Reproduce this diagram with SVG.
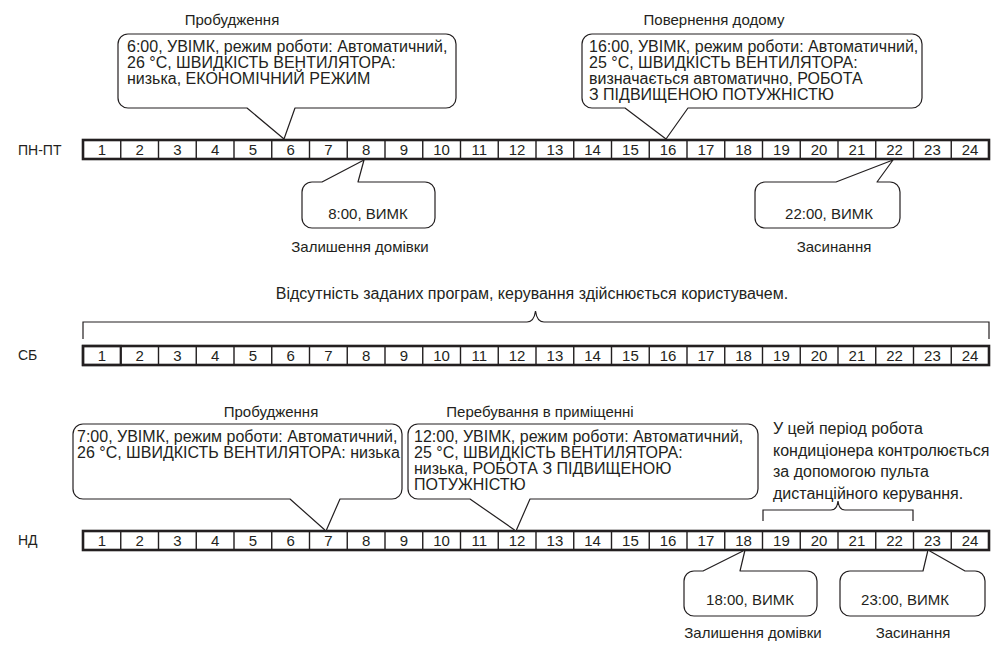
<svg xmlns="http://www.w3.org/2000/svg" width="991" height="645" viewBox="0 0 991 645">
<style>
text{font-family:"Liberation Sans",Arial,sans-serif;fill:#231f20}
.lbl{font-size:15px;text-anchor:middle}
.note{font-size:16px;text-anchor:middle}
.bt{font-size:16px}
.st{font-size:16px}
.num{font-size:15px;text-anchor:middle}
.row{font-size:14px}
.bar{fill:#fff;stroke:#231f20;stroke-width:2.6}
.div{stroke:#231f20;stroke-width:1.4}
.bub{fill:#fff;stroke:#231f20;stroke-width:1.2;stroke-linejoin:round}
.br{fill:none;stroke:#231f20;stroke-width:1.2}
</style>
<defs>
<g id="cells">
<rect class="bar" x="83" y="0" width="906" height="19"/>
<path class="div" d="M120.75 0v19M158.5 0v19M196.25 0v19M234 0v19M271.75 0v19M309.5 0v19M347.25 0v19M385 0v19M422.75 0v19M460.5 0v19M498.25 0v19M536 0v19M573.75 0v19M611.5 0v19M649.25 0v19M687 0v19M724.75 0v19M762.5 0v19M800.25 0v19M838 0v19M875.75 0v19M913.5 0v19M951.25 0v19"/>
<g class="num">
<text x="101.9" y="15">1</text><text x="139.6" y="15">2</text><text x="177.4" y="15">3</text><text x="215.1" y="15">4</text><text x="252.9" y="15">5</text><text x="290.6" y="15">6</text><text x="328.4" y="15">7</text><text x="366.1" y="15">8</text><text x="403.9" y="15">9</text><text x="441.6" y="15">10</text><text x="479.4" y="15">11</text><text x="517.1" y="15">12</text><text x="554.9" y="15">13</text><text x="592.6" y="15">14</text><text x="630.4" y="15">15</text><text x="668.1" y="15">16</text><text x="705.9" y="15">17</text><text x="743.6" y="15">18</text><text x="781.4" y="15">19</text><text x="819.1" y="15">20</text><text x="856.9" y="15">21</text><text x="894.6" y="15">22</text><text x="932.4" y="15">23</text><text x="970.1" y="15">24</text>
</g>
</g>
</defs>

<g id="row-weekdays">
<text class="row" x="18" y="155">ПН-ПТ</text>
<use href="#cells" y="140"/>
</g>
<g id="row-saturday">
<text class="row" x="18" y="360">СБ</text>
<use href="#cells" y="346"/>
<rect x="83" y="346" width="37.75" height="19" fill="none" stroke="#231f20" stroke-width="2.2"/>
</g>
<g id="row-sunday">
<text class="row" x="18" y="545">НД</text>
<use href="#cells" y="531"/>
</g>

<g id="connectors">
<path class="br" d="M83 339V322H527Q534 322 535.5 311Q537 322 544 322H989V339"/>
<path class="br" d="M763 521V510H831Q837 510 838 501Q839 510 845 510H913V521"/>
</g>

<g id="wake-weekday">
<text class="lbl" x="232" y="25">Пробудження</text>
<path class="bub" d="M128 34H446A10 10 0 0 1 456 44V98A10 10 0 0 1 446 108H295L284 139L247 108H128A10 10 0 0 1 118 98V44A10 10 0 0 1 128 34Z"/>
<text class="bt" x="127" y="52">6:00, УВІМК, режим роботи: Автоматичний,</text>
<text class="bt" x="127" y="68">26 °C, ШВИДКІСТЬ ВЕНТИЛЯТОРА:</text>
<text class="bt" x="127" y="84">низька, ЕКОНОМІЧНИЙ РЕЖИМ</text>
</g>

<g id="home-weekday">
<text class="lbl" x="714" y="25">Повернення додому</text>
<path class="bub" d="M592 34H912A10 10 0 0 1 922 44V98A10 10 0 0 1 912 108H688L666 139L625 108H592A10 10 0 0 1 582 98V44A10 10 0 0 1 592 34Z"/>
<text class="bt" x="589" y="52">16:00, УВІМК, режим роботи: Автоматичний,</text>
<text class="bt" x="589" y="68">25 °C, ШВИДКІСТЬ ВЕНТИЛЯТОРА:</text>
<text class="bt" x="589" y="84">визначається автоматично, РОБОТА</text>
<text class="bt" x="589" y="100">З ПІДВИЩЕНОЮ ПОТУЖНІСТЮ</text>
</g>

<g id="leave-weekday">
<path class="bub" d="M312 182H322L364 160L358 182H425A10 10 0 0 1 435 192V218A10 10 0 0 1 425 228H312A10 10 0 0 1 302 218V192A10 10 0 0 1 312 182Z"/>
<text class="lbl" x="368" y="219">8:00, ВИМК</text>
<text class="lbl" x="360" y="252">Залишення домівки</text>
</g>

<g id="sleep-weekday">
<path class="bub" d="M765 182H836L893 160L877 182H890A10 10 0 0 1 900 192V218A10 10 0 0 1 890 228H765A10 10 0 0 1 755 218V192A10 10 0 0 1 765 182Z"/>
<text class="lbl" x="829" y="219">22:00, ВИМК</text>
<text class="lbl" x="834" y="252">Засинання</text>
</g>

<g id="saturday-note">
<text class="note" x="532" y="299">Відсутність заданих програм, керування здійснюється користувачем.</text>
</g>

<g id="wake-sunday">
<text class="lbl" x="271" y="417">Пробудження</text>
<path class="bub" d="M83 424H392A10 10 0 0 1 402 434V489A10 10 0 0 1 392 499H340L326 531L290 499H83A10 10 0 0 1 73 489V434A10 10 0 0 1 83 424Z"/>
<text class="bt" x="77" y="442">7:00, УВІМК, режим роботи: Автоматичний,</text>
<text class="bt" x="77" y="458">26 °C, ШВИДКІСТЬ ВЕНТИЛЯТОРА: низька</text>
</g>

<g id="stay-sunday">
<text class="lbl" x="540" y="417">Перебування в приміщенні</text>
<path class="bub" d="M418 424H748A10 10 0 0 1 758 434V489A10 10 0 0 1 748 499H530L516 531L470 499H418A10 10 0 0 1 408 489V434A10 10 0 0 1 418 424Z"/>
<text class="bt" x="414" y="442">12:00, УВІМК, режим роботи: Автоматичний,</text>
<text class="bt" x="414" y="458">25 °C, ШВИДКІСТЬ ВЕНТИЛЯТОРА:</text>
<text class="bt" x="414" y="474">низька, РОБОТА З ПІДВИЩЕНОЮ</text>
<text class="bt" x="414" y="490">ПОТУЖНІСТЮ</text>
</g>

<g id="remote-note">
<text class="st" x="773" y="434">У цей період робота</text>
<text class="st" x="773" y="456">кондиціонера контролюється</text>
<text class="st" x="773" y="477">за допомогою пульта</text>
<text class="st" x="773" y="499">дистанційного керування.</text>
</g>

<g id="leave-sunday">
<path class="bub" d="M694 571H703L745 550L740 571H807A10 10 0 0 1 817 581V606A10 10 0 0 1 807 616H694A10 10 0 0 1 684 606V581A10 10 0 0 1 694 571Z"/>
<text class="lbl" x="750" y="605">18:00, ВИМК</text>
<text class="lbl" x="753" y="638">Залишення домівки</text>
</g>

<g id="sleep-sunday">
<path class="bub" d="M850 571H923L928 550L965 571H975A10 10 0 0 1 985 581V606A10 10 0 0 1 975 616H850A10 10 0 0 1 840 606V581A10 10 0 0 1 850 571Z"/>
<text class="lbl" x="905" y="605">23:00, ВИМК</text>
<text class="lbl" x="913" y="638">Засинання</text>
</g>
</svg>
